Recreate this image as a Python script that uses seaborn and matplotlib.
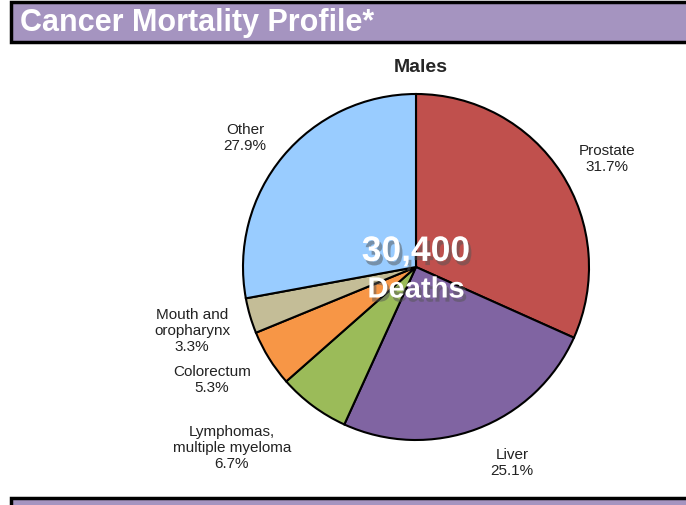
import matplotlib
matplotlib.use("Agg")
import matplotlib.pyplot as plt
import matplotlib.patheffects as pe
from matplotlib import font_manager
from matplotlib.patches import Rectangle
import seaborn as sns

sns.set_style("white")
plt.rcParams["font.family"] = ["Liberation Sans", "DejaVu Sans"]

causes = ["Prostate", "Liver", "Lymphomas,\nmultiple myeloma", "Colorectum",
          "Mouth and\noropharynx", "Other"]
shares = [31.7, 25.1, 6.7, 5.3, 3.3, 27.9]
colours = ["#C0504D", "#8064A2", "#9BBB59", "#F79646", "#C4BD97", "#99CCFF"]
total_deaths = "30,400"

# label anchors (data coords, radius = 1)
label_pos = [(1.104, 0.63), (0.555, -1.127), (-1.064, -1.04), (-1.179, -0.647),
             (-1.295, -0.364), (-0.988, 0.751)]

# narrow font for the header if there is one
try:
    font_manager.findfont("Liberation Sans Narrow", fallback_to_default=False)
    head_font, head_size = "Liberation Sans Narrow", 26
except ValueError:
    head_font, head_size = "Liberation Sans", 22

fig = plt.figure(figsize=(6.86, 5.06), dpi=100)

# header band
fig.patches.append(Rectangle((11 / 686, 1 - 43 / 506), 1.0, 40 / 506,
                             transform=fig.transFigure, facecolor="#A594C0",
                             edgecolor="black", linewidth=2.5))
fig.text(20 / 686, 1 - 23 / 506, "Cancer Mortality Profile*", color="white",
         fontsize=head_size, fontweight="bold", va="center", ha="left",
         family=[head_font, "Liberation Sans"])
# bottom band (cut off)
fig.patches.append(Rectangle((11 / 686, -0.05), 1.0, 0.05 + 7 / 506,
                             transform=fig.transFigure, facecolor="#A594C0",
                             edgecolor="black", linewidth=2.5))

fig.text(421 / 686, 1 - 67 / 506, "Males", fontsize=14, fontweight="bold",
         ha="center", va="center")

ax = fig.add_axes([(416 - 173) / 686, (506 - 441) / 506, 346 / 686, 346 / 506])
ax.pie(shares, colors=colours, startangle=90, counterclock=False,
       wedgeprops=dict(edgecolor="black", linewidth=1.5))
ax.set_xlim(-1, 1)
ax.set_ylim(-1, 1)
ax.set_aspect("equal")

for name, val, (x, y) in zip(causes, shares, label_pos):
    ax.text(x, y, f"{name}\n{val}%", ha="center", va="center", fontsize=11,
            linespacing=1.2, color="#222222")

shadow = [pe.SimplePatchShadow(offset=(2, -3), shadow_rgbFace="#555555", alpha=0.5),
          pe.Normal()]
ax.text(0, 0.09, total_deaths, ha="center", va="center", fontsize=25.5,
        fontweight="bold", color="white", path_effects=shadow)
ax.text(0, -0.13, "Deaths", ha="center", va="center", fontsize=21,
        fontweight="bold", color="white", path_effects=shadow)

fig.savefig("out.png", dpi=100)
